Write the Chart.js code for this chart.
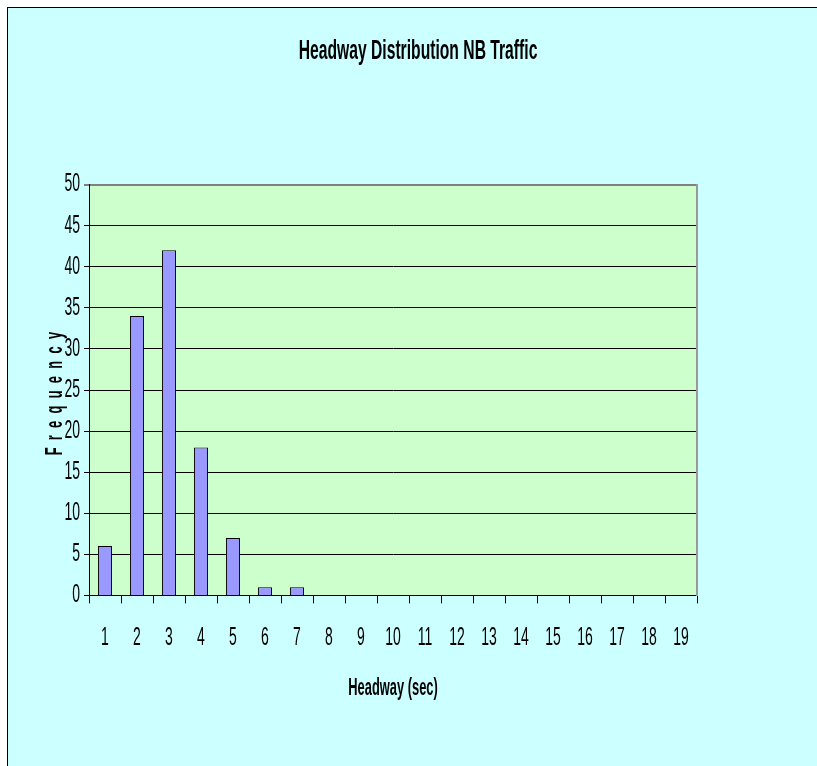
<!DOCTYPE html>
<html>
<head>
<meta charset="utf-8">
<script src="https://cdn.jsdelivr.net/npm/chart.js@4/dist/chart.umd.min.js"></script>
<style>
  body { margin: 0; background: #fff; overflow: hidden; }
  #box { position: absolute; left: 7px; top: 7px; width: 830px; height: 780px;
         border-left: 1px solid #000; border-top: 1px solid #000; background: #CCFFFF; }
</style>
</head>
<body>
<div id="box"><canvas id="myChart" width="809" height="758"></canvas></div>
<script>
var headway = ['1','2','3','4','5','6','7','8','9','10','11','12','13','14','15','16','17','18','19'];
var frequency = [6,34,42,18,7,1,1,0,0,0,0,0,0,0,0,0,0,0,0];
var yMax = 50, yStep = 5;

var font = "'Liberation Sans', Arial, sans-serif";
var squeezeX = 0.56; // the original uses a very narrow face

// draw every text squeezed sideways around its anchor point
var squeeze = {
  id: 'squeeze',
  beforeInit: function (chart) {
    var c = chart.ctx, orig = c.fillText;
    c.fillText = function (t, x, y) {
      this.save();
      this.translate(x, y);
      this.scale(squeezeX, 1);
      orig.call(this, t, 0, 0);
      this.restore();
    };
  }
};

// green plot area behind the bars
var plotBg = {
  id: 'plotBg',
  beforeDraw: function (chart) {
    var a = chart.chartArea, ctx = chart.ctx;
    ctx.save();
    ctx.fillStyle = '#CCFFCC';
    ctx.fillRect(a.left, a.top, a.right - a.left, a.bottom - a.top);
    ctx.restore();
  }
};

// spaced-out vertical axis title
var yTitle = {
  id: 'yTitle',
  afterDraw: function (chart) {
    var ctx = chart.ctx;
    ctx.save();
    ctx.translate(54, 386);
    ctx.rotate(-Math.PI / 2);
    ctx.font = 'bold 23px ' + font;
    ctx.letterSpacing = '13px';
    ctx.fillStyle = '#000';
    ctx.textAlign = 'center';
    ctx.textBaseline = 'alphabetic';
    ctx.fillText('Frequency', 4, 0);
    ctx.restore();
  }
};

var ctx = document.getElementById('myChart').getContext('2d');
var myChart = new Chart(ctx, {
  type: 'bar',
  data: {
    labels: headway,
    datasets: [{
      data: frequency,
      backgroundColor: '#9999FF',
      borderColor: '#000',
      borderWidth: 1,
      barPercentage: 0.44,
      categoryPercentage: 1
    }]
  },
  options: {
    responsive: false,
    animation: false,
    layout: { padding: { left: 11, right: 0, top: 0, bottom: 64 } },
    plugins: {
      legend: { display: false },
      tooltip: { enabled: false },
      title: {
        display: true,
        text: 'Headway Distribution NB Traffic',
        color: '#000',
        font: { family: font, size: 28, weight: 'bold' },
        padding: { top: 26, bottom: 117 }
      }
    },
    scales: {
      x: {
        grid: { offset: true, drawOnChartArea: false, drawTicks: true, tickLength: 8, color: '#000' },
        border: { color: '#000', width: 1 },
        ticks: { color: '#000', padding: 20, maxRotation: 0, autoSkip: false, font: { family: font, size: 25 } },
        title: { display: true, text: 'Headway (sec)', color: '#000',
                 font: { family: font, size: 23, weight: 'bold' }, padding: { top: 1, bottom: 0 } }
      },
      y: {
        min: 0, max: yMax,
        afterFit: function (s) { s.width = 70; },
        grid: {
          color: function (c) { return c.tick && c.tick.value === yMax ? '#808080' : '#000'; },
          lineWidth: function (c) { return c.tick && c.tick.value === yMax ? 2 : 1; },
          tickLength: 5
        },
        border: { color: '#000', width: 1 },
        ticks: { stepSize: yStep, color: '#000', padding: 4, font: { family: font, size: 25 } }
      },
      y2: {
        position: 'right',
        min: 0, max: yMax,
        afterFit: function (s) { s.width = 120; },
        grid: { display: true, drawOnChartArea: false, drawTicks: false },
        border: { color: '#9a9a9a', width: 2 },
        ticks: { display: false }
      }
    }
  },
  plugins: [squeeze, plotBg, yTitle]
});
</script>
</body>
</html>
